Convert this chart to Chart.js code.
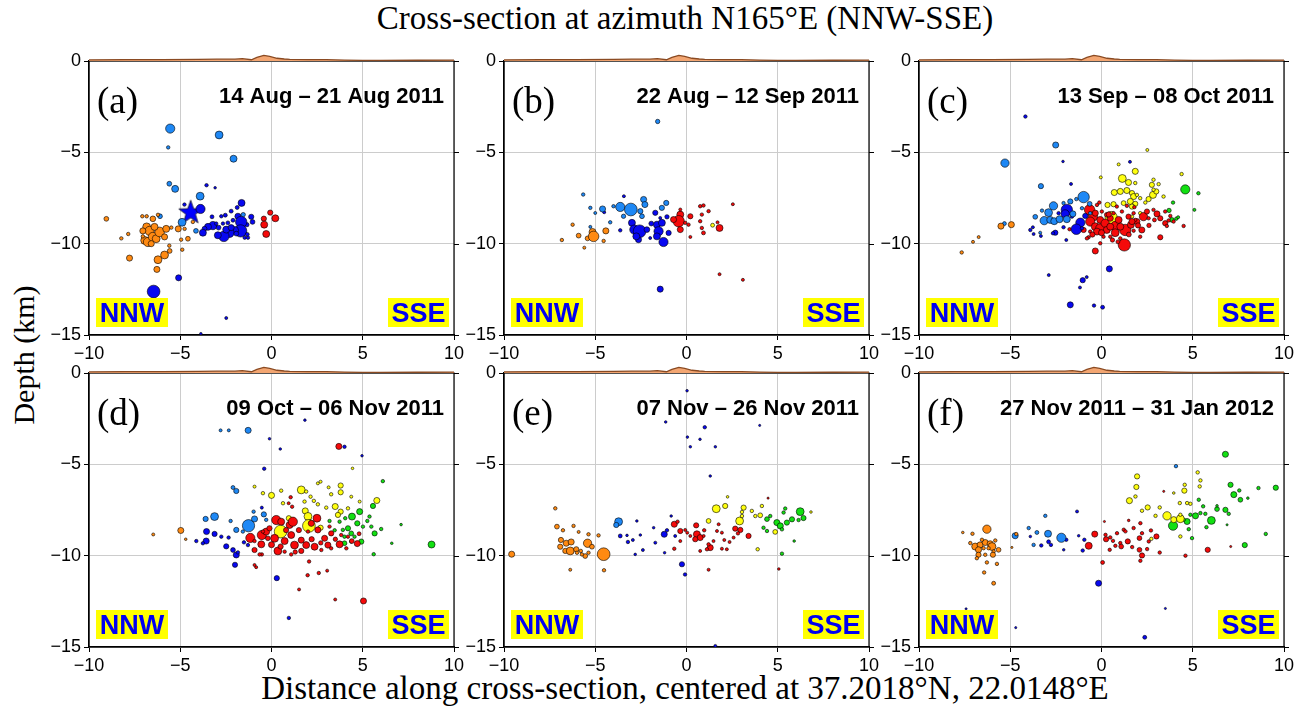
<!DOCTYPE html>
<html>
<head>
<meta charset="utf-8">
<script src="https://cdn.jsdelivr.net/npm/chart.js@4.4.0/dist/chart.umd.min.js"></script>
<style>
body { margin:0; background:#fff; width:1306px; height:707px; position:relative; overflow:hidden; }
canvas { position:absolute; }
.lbl { position:absolute; font-family:'Liberation Serif', serif; color:#000; white-space:nowrap; }
</style>
</head>
<body>
<div class="lbl" style="left:0;width:1370px;top:0px;text-align:center;font-size:33px;line-height:36px">Cross-section at azimuth N165°E (NNW-SSE)</div>
<div class="lbl" style="left:0;width:1370px;top:670px;text-align:center;font-size:33px;line-height:36px">Distance along cross-section, centered at 37.2018°N, 22.0148°E</div>
<div class="lbl" style="left:24px;top:355px;font-size:30px;line-height:32px;transform:translate(-50%,-50%) rotate(-90deg)">Depth (km)</div>
<div id="wrap"></div>
<script>
// axes
const xTicks = [-10, -5, 0, 5, 10];
const yTicks = [0, -5, -10, -15];
const panelLetters = ['(a)', '(b)', '(c)', '(d)', '(e)', '(f)'];
const panelDates = ['14 Aug – 21 Aug 2011', '22 Aug – 12 Sep 2011', '13 Sep – 08 Oct 2011',
                    '09 Oct – 06 Nov 2011', '07 Nov – 26 Nov 2011', '27 Nov 2011 – 31 Jan 2012'];

// topography along the profile (km, positive up)
const topoX = [-10, -8, -6, -4, -3, -2, -1.6, -1.1, -0.8, -0.42, -0.1, 0.3, 0.7, 1, 2, 3, 4, 5, 6, 8, 10];
const topoZ = [0.06, 0.07, 0.08, 0.09, 0.1, 0.1, 0.13, 0.07, 0.2, 0.31, 0.25, 0.15, 0.11, 0.09, 0.08, 0.07, 0.05, 0.03, 0.03, 0.04, 0.05];

// events: [distance km, depth km, size class]
const aOrange = [[-9.05,-8.64,1.5],[-8.23,-9.71,1.2],[-7.85,-9.47,1.2],[-7.78,-10.79,1.8],[-7.08,-8.5,1.2],[-6.84,-8.5,1.2],[-6.5,-8.64,1.7],[-6.22,-8.42,1.2],[-6.84,-9.08,2.2],[-6.68,-9.3,2.5],[-6.95,-9.82,2.2],[-6.77,-9.91,2.5],[-6.5,-9.63,2.5],[-6.32,-9.73,2.2],[-6.13,-9.36,2.6],[-6.41,-9.08,2],[-6.59,-10.0,1.8],[-5.86,-9.63,1.8],[-5.77,-9.19,2],[-5.49,-9.12,1.2],[-5.11,-9.19,1.8],[-4.76,-9.19,1.2],[-4.58,-9.73,1.5],[-4.95,-9.78,1.2],[-5.6,-10.11,1.2],[-5.58,-10.4,1.5],[-5.86,-10.62,2.2],[-6.22,-10.88,2.2],[-6.28,-11.41,1.8],[-4.89,-10.33,1.2],[-4.31,-8.81,1.2],[-7.05,-9.3,1.8],[-7.05,-9.6,1.2]];
const aLblue = [[-5.55,-3.7,2.5],[-2.87,-4.05,2.2],[-5.66,-4.73,1.2],[-2.08,-5.35,2],[-5.6,-6.72,1.5],[-5.28,-7.0,2],[-3.91,-7.4,2.2],[-4.9,-8.83,2.2],[-6.11,-8.5,1.5],[-4.14,-9.3,1.5],[-1.55,-8.41,1.4]];
const aBlue = [[-6.46,-12.62,3.3],[-5.09,-11.87,1.8],[-3.56,-6.8,1.2],[-3.09,-6.94,1.0],[-2.48,-14.07,1.1],[-3.87,-14.93,1.0],[-4.77,-7.86,1.2],[-3.89,-8.1,2.5],[-1.64,-7.77,2],[-1.88,-8.02,1.3],[-2.21,-8.22,1.3],[-2.53,-8.44,1.3],[-2.75,-8.5,1.2],[-3.26,-8.53,1.3],[-1.84,-8.5,1.8],[-1.11,-8.53,1.6],[-1.04,-8.81,1.5],[-1.35,-8.96,1.4],[-1.66,-8.81,3.0],[-1.69,-9.3,3.2],[-2.02,-9.27,2.2],[-2.3,-9.41,2.5],[-2.61,-9.6,2.8],[-2.94,-9.54,2],[-3.21,-9.01,2.3],[-3.48,-9.08,2],[-3.67,-9.18,1.5],[-3.76,-9.4,2],[-2.9,-9.12,1.5],[-2.48,-9.23,2],[-2.21,-9.12,1.8],[-1.93,-9.45,1.5],[-1.47,-9.67,1.2],[-1.29,-9.67,1.2],[-1.33,-9.49,1.3],[-2.66,-8.9,1.2],[-3.03,-8.9,1.2],[-2.39,-8.86,1.3],[-2.11,-8.72,1.3]];
const aRed = [[-0.07,-8.3,1.6],[0.21,-8.61,2],[-0.42,-8.63,1.6],[-0.4,-8.96,2],[-0.29,-9.47,2]];
const aYellow = [];
const aGreen = [];
const mainShock = [[-4.43, -8.25]];

const bOrange = [[-6.83,-9.8,1.2],[-6.24,-8.96,1.2],[-5.91,-9.56,1.5],[-5.42,-9.71,1.5],[-5.15,-9.36,2],[-5.09,-9.6,2.8],[-4.42,-9.3,1.8],[-4.54,-9.85,1.2],[-5.6,-10.22,1.1]];
const bLblue = [[-1.58,-3.31,1.4],[-5.66,-7.31,1.2],[-5.27,-8.04,1.2],[-5.0,-8.32,1.1],[-4.6,-8.1,1.8],[-4.0,-7.95,1.2],[-3.63,-7.99,2.5],[-3.05,-8.13,3.3],[-2.35,-7.58,1.8],[-2.28,-7.86,1.8],[-2.53,-8.22,1.6],[-2.44,-8.5,1.5],[-3.45,-8.5,1.4],[-1.35,-8.04,1.6],[-1.11,-7.77,1.6],[-5.27,-9.08,1.1],[-4.18,-8.83,1.2]];
const bBlue = [[-3.43,-7.4,1.1],[-4.51,-8.28,1.1],[-3.63,-9.27,1.2],[-2.99,-8.86,2],[-2.86,-9.23,2.5],[-2.57,-9.32,3.3],[-2.63,-9.78,1.8],[-2.75,-9.6,2],[-2.17,-9.23,1.7],[-1.93,-8.9,1.5],[-1.71,-8.31,1.6],[-1.62,-8.96,2],[-1.53,-9.32,2.5],[-1.62,-9.6,2],[-1.35,-8.86,2],[-1.26,-9.91,2.5],[-1.07,-8.53,1.4],[-0.98,-9.41,1.6],[-1.44,-12.49,1.8],[-1.99,-9.69,1.1],[-1.44,-8.59,1.1]];
const bRed = [[-0.34,-8.41,2],[-0.43,-8.77,3],[-0.71,-8.68,1.8],[-0.34,-9.23,1.8],[-0.07,-8.86,1.2],[0.21,-8.5,1.6],[0.11,-8.96,1.2],[0.75,-7.95,1.2],[0.93,-7.91,1.2],[1.21,-8.22,1.2],[0.84,-8.41,1.2],[0.75,-8.77,1.2],[0.93,-9.41,1.3],[0.84,-9.14,1.2],[0.21,-9.63,1.1],[1.81,-9.14,2],[1.7,-8.83,1.1],[2.54,-7.84,1.1],[1.81,-11.67,1.1],[3.09,-11.98,1.1],[-0.34,-8.13,1.1]];
const bYellow = [[1.43,-8.99,1.3]];
const bGreen = [];

const cOrange = [[-7.66,-10.48,1.2],[-7.04,-9.9,1.1],[-6.73,-9.64,1.1],[-5.51,-9.04,1.8],[-4.94,-8.96,1.8]];
const cLblue = [[-5.29,-5.59,2.3],[-2.51,-4.6,1.8],[-3.32,-6.85,1.6],[-5.32,-8.9,1.3],[-0.98,-7.45,3.0],[-2.63,-7.93,2.3],[-2.9,-8.3,2.2],[-3.14,-8.74,2.3],[-2.81,-8.7,2],[-2.59,-8.77,2],[-2.3,-8.66,2],[-1.9,-8.66,2],[-1.57,-8.37,1.8],[-1.71,-7.69,1.6],[-2.08,-7.78,1.2],[-3.63,-8.53,1.5],[-3.26,-8.19,1.2],[-3.36,-9.4,1.1],[-0.65,-7.82,1.5],[-1.07,-8.06,1.2],[-0.62,-8.33,1.2],[-1.38,-7.56,1.2]];
const cBlue = [[-4.17,-3.04,1.2],[-2.11,-5.5,1.0],[1.56,-5.52,1.1],[-1.67,-6.73,1.1],[-2.89,-11.72,1.1],[-1.03,-12.0,1.6],[-0.81,-11.83,1.1],[-1.18,-12.4,1.1],[-1.71,-13.35,1.8],[-0.41,-13.39,1.2],[0.06,-13.48,1.3],[0.43,-11.38,1.8],[-1.9,-8.15,3],[-1.99,-8.37,2.3],[-1.16,-8.85,2.5],[-1.38,-9.21,2.8],[-2.53,-9.4,1.6],[-2.66,-9.43,1.2],[-3.76,-9.1,1.1],[-3.9,-9.25,1.2],[-3.72,-9.47,1.1],[-3.32,-9.58,1.1],[-2.35,-8.33,1.2],[-0.89,-8.48,1.6],[-1.07,-9.16,1.2],[-2.08,-9.1,1.2],[-1.93,-9.8,1.1],[-1.62,-8.52,1.2]];
const cRed = [[-0.65,-8.15,2.8],[-0.47,-8.52,2.5],[-0.62,-8.79,2.5],[-0.34,-9.07,2.2],[-0.07,-8.7,2],[-0.07,-9.16,2.5],[0.2,-8.88,2.3],[0.29,-9.25,2],[0.75,-9.03,2.5],[0.75,-9.4,2.2],[0.94,-8.7,2],[1.3,-9.25,3],[1.25,-10.07,3.2],[1.61,-8.97,2],[1.94,-8.79,1.8],[2.21,-9.25,1.8],[2.3,-8.52,2.3],[2.49,-8.24,1.6],[3.04,-8.37,1.8],[3.22,-8.61,1.6],[3.49,-8.88,1.6],[3.58,-9.03,1.2],[3.22,-9.65,1.6],[4.5,-9.03,1.2],[-0.62,-9.34,1.2],[-0.71,-9.65,1.2],[-0.34,-10.4,1.8],[-0.07,-9.98,1.2],[0.11,-9.62,1.2],[0.48,-9.62,1.2],[1.03,-9.71,1.2],[1.76,-9.29,1.2],[2.12,-9.62,1.2],[-0.8,-9.71,1.2],[-0.98,-9.25,1.6],[-1.44,-9.07,1.2],[-1.75,-9.21,1.2],[-0.25,-7.88,1.2],[-0.12,-7.75,1.2],[0.48,-8.61,1.8],[0.66,-8.33,1.2],[1.12,-8.24,1.2],[1.48,-8.52,1.6],[1.76,-8.33,1.2],[1.85,-8.7,1.2],[2.58,-8.61,1.2],[2.85,-8.15,1.2],[3.49,-8.24,1.2],[3.77,-8.48,1.2],[3.68,-8.73,1.2],[3.95,-8.79,1.2],[0.29,-8.42,1.5],[0.02,-8.24,1.2],[0.84,-7.97,1.2],[1.39,-7.93,1.2],[-0.34,-8.33,1.8],[-0.25,-9.34,2],[0.48,-9.07,2],[1.03,-9.07,2],[1.67,-8.79,1.8],[0.0,-9.4,1.8],[0.4,-8.4,1.6],[0.6,-9.8,1.4],[1.5,-9.5,1.5],[2.0,-9.0,1.6],[2.6,-9.0,1.4],[-0.5,-9.5,1.6],[0.9,-9.9,1.3],[1.8,-8.0,1.2],[2.9,-8.7,1.3]];
const cYellow = [[2.51,-4.87,1.1],[0.94,-5.66,1.1],[1.85,-6.04,1.8],[4.39,-6.19,1.2],[-0.04,-6.37,1.1],[1.14,-6.43,2.2],[1.48,-6.65,1.8],[2.85,-6.5,1.2],[3.13,-6.74,1.2],[1.85,-6.68,1.2],[0.7,-7.2,1.8],[1.03,-7.14,1.8],[1.39,-7.09,1.8],[1.67,-7.23,1.6],[1.76,-7.42,1.8],[1.94,-7.33,1.2],[2.12,-7.51,1.2],[2.82,-7.33,2],[3.0,-7.14,1.6],[2.58,-7.56,1.6],[2.4,-7.75,1.2],[1.58,-7.69,1.8],[1.85,-7.82,1.6],[1.67,-7.97,1.6],[1.21,-7.78,1.5],[0.66,-7.84,1.6],[0.33,-7.88,1.6],[2.12,-8.33,1.2],[1.67,-8.52,1.2],[2.76,-6.78,1.6],[2.85,-7.05,1.2],[3.4,-7.42,1.2],[0.53,-8.57,3.2]];
const cGreen = [[4.59,-7.03,2.5],[5.31,-7.24,1.2],[5.09,-8.15,1.1],[3.92,-7.75,1.2],[3.7,-8.18,1.4],[3.86,-8.7,1.5],[4.1,-8.63,1.2],[4.2,-8.55,1.1]];

const dOrange = [[-6.48,-8.84,1.1],[-4.97,-8.62,1.8],[-4.7,-9.1,1.0]];
const dLblue = [[-2.79,-3.14,1.1],[-2.34,-3.14,1.1],[-1.28,-3.14,1.8],[-2.11,-6.27,1.3],[-1.93,-6.46,1.6],[-3.61,-7.99,1.6],[-3.12,-7.86,2.2],[-2.24,-8.1,1.2],[-1.26,-8.36,3.2],[-1.93,-8.59,1.6],[-0.93,-7.99,1.8],[-0.42,-7.74,1.6],[-0.98,-7.59,1.2],[-0.29,-8.04,1.2],[-1.57,-8.68,1.2]];
const dBlue = [[-0.11,-3.6,1.0],[0.48,-4.16,1.0],[1.83,-2.58,1.0],[4.0,-4.04,1.2],[4.96,-4.53,1.0],[-0.4,-5.24,1.2],[-2.0,-10.5,1.6],[0.29,-11.23,1.6],[0.95,-13.41,1.2],[-0.53,-7.37,1.1],[-3.56,-8.68,1.8],[-3.12,-8.81,1.6],[-3.58,-9.2,1.8],[-3.76,-9.32,1.2],[-4.12,-9.2,1.2],[-2.75,-8.96,1.2],[-2.35,-9.01,1.2],[-2.48,-9.49,1.6],[-2.11,-9.69,1.5],[-1.93,-9.96,1.8],[-1.84,-9.82,1.2],[-1.51,-9.27,1.2],[-1.29,-9.42,1.2]];
const dRed = [[3.69,-4.02,1.8],[-0.84,-10.63,1.1],[2.06,-10.32,1.2],[1.98,-11.07,1.2],[2.59,-10.95,1.2],[3.05,-10.82,1.1],[1.51,-11.85,1.1],[3.49,-12.4,1.1],[5.04,-12.48,1.8],[-1.16,-9.03,2.5],[-0.93,-9.2,1.2],[-0.53,-8.87,2.5],[-0.29,-8.68,2],[-0.56,-9.38,2],[-0.93,-9.69,1.6],[-0.53,-9.93,1.2],[0.26,-8.05,2.5],[0.53,-8.14,2],[0.99,-8.32,2],[1.17,-8.14,2.5],[0.17,-9.05,2.2],[0.72,-9.2,2],[1.08,-8.87,2],[1.26,-9.42,2.2],[1.63,-9.15,1.8],[0.35,-9.74,2.2],[0.72,-9.78,1.2],[1.08,-9.93,1.2],[1.63,-9.74,1.6],[1.9,-9.42,2],[2.36,-9.51,2],[2.49,-7.95,2.2],[2.18,-8.23,1.8],[2.54,-8.59,1.8],[2.91,-9.05,1.8],[3.09,-9.42,1.8],[3.27,-8.78,1.6],[3.73,-9.38,2],[3.82,-8.87,1.2],[4.19,-8.96,1.2],[4.7,-9.34,1.8],[4.1,-9.6,1.2],[3.27,-9.6,1.2],[2.73,-9.69,1.2],[1.05,-6.8,1.2],[1.13,-7.32,1.2],[0.94,-7.13,1.1],[-0.47,-8.68,1.2],[-0.11,-8.5,1.6],[-0.2,-9.05,1.5],[2.0,-8.68,1.2],[3.18,-8.41,1.2],[-0.93,-10.51,1.1],[-0.65,-9.93,1.2],[0.0,-9.4,1.8],[0.5,-9.5,1.6],[1.5,-8.6,1.6],[2.2,-9.1,1.6],[2.7,-9.3,1.4],[1.3,-9.8,1.4],[0.8,-8.6,1.6],[3.5,-9.1,1.4],[4.4,-9.2,1.5],[4.8,-8.8,1.3]];
const dYellow = [[4.44,-5.22,1.0],[1.63,-6.4,2.2],[0.0,-6.7,1.8],[-0.47,-6.58,1.2],[-0.93,-6.22,1.1],[0.53,-6.44,1.2],[1.9,-6.49,1.2],[2.14,-6.77,1.2],[2.54,-6.04,1.1],[2.69,-5.95,1.1],[3.13,-6.26,1.1],[3.79,-6.16,1.6],[3.79,-6.53,1.6],[3.27,-6.64,1.2],[1.81,-7.04,1.2],[2.32,-7.0,1.2],[2.54,-7.19,1.2],[1.85,-7.55,1.8],[2.0,-7.85,2.2],[3.0,-7.37,1.2],[3.49,-7.31,1.8],[3.79,-7.59,1.6],[4.19,-7.41,1.2],[5.77,-6.98,1.8],[2.69,-8.47,1.6],[3.64,-7.77,1.6],[0.63,-7.13,1.2],[0.95,-7.95,1.6],[4.37,-6.77,1.1],[4.83,-7.04,1.1],[0.5,-8.68,3.3],[2.05,-8.37,3.3]];
const dGreen = [[6.1,-5.92,1.2],[8.77,-9.39,2],[7.1,-8.3,1.0],[6.59,-9.32,1.0],[5.6,-9.92,1.2],[4.41,-7.86,2],[4.04,-7.95,1.2],[3.73,-8.14,1.2],[4.83,-7.59,1.8],[5.37,-7.86,1.2],[5.56,-7.28,1.6],[4.7,-8.23,1.6],[5.01,-8.41,1.2],[4.19,-8.5,1.6],[3.91,-8.59,1.2],[4.37,-8.78,1.5],[4.0,-8.96,1.2],[4.55,-8.96,1.2],[4.92,-9.23,1.6],[5.47,-8.41,1.2],[5.65,-8.78,1.6],[6.01,-8.54,1.2],[5.25,-8.1,1.2],[4.0,-9.32,1.5],[4.37,-9.23,1.2],[3.46,-8.61,1.2],[3.18,-8.1,1.2]];

const eOrange = [[-9.58,-9.92,1.8],[-4.52,-10.8,1.2],[-6.37,-10.77,1.1],[-7.19,-7.41,1.2],[-7.1,-8.41,1.5],[-6.77,-8.61,1.2],[-6.19,-8.37,1.2],[-5.91,-8.7,1.1],[-5.37,-8.83,1.2],[-4.82,-8.89,1.2],[-6.88,-9.14,1.6],[-6.59,-9.32,1.8],[-6.32,-9.25,1.8],[-6.92,-9.51,1.6],[-6.64,-9.74,1.6],[-6.37,-9.74,2.2],[-6.04,-9.65,1.6],[-5.79,-9.74,1.2],[-5.55,-10.02,1.5],[-5.42,-9.32,2.3],[-5.18,-9.51,1.5],[-5.37,-9.84,1.2],[-6.0,-9.84,1.2],[-5.73,-9.93,1.2],[-4.54,-9.92,3.3]];
const eLblue = [[-3.72,-8.14,2.2],[-3.85,-8.32,1.6]];
const eBlue = [[0.03,-0.97,1.0],[-1.14,-2.68,1.0],[1.0,-2.97,1.2],[0.05,-3.51,1.0],[0.21,-4.04,1.0],[0.74,-3.63,1.0],[1.58,-4.04,1.0],[4.01,-2.87,0.9],[1.3,-5.64,1.0],[-0.25,-10.47,1.6],[-0.08,-11.03,1.2],[1.58,-14.94,1.1],[-3.63,-8.92,1.3],[-3.21,-9.25,1.2],[-2.94,-9.14,1.1],[-2.72,-8.1,1.0],[-2.39,-9.69,1.1],[-1.8,-8.47,1.0],[-1.71,-9.29,1.1],[-1.22,-8.83,1.8],[-1.07,-8.61,1.2],[-0.84,-7.83,1.0],[-0.62,-8.92,1.1],[-2.81,-9.93,1.0],[-1.2,-9.84,1.0],[-2.53,-8.87,1.0],[-3.26,-8.89,1.0]];
const eRed = [[1.21,-10.77,1.1],[5.06,-10.73,1.0],[4.47,-6.85,0.9],[-0.67,-8.28,1.8],[-0.49,-8.14,1.2],[-0.34,-8.65,1.6],[0.04,-8.74,1.1],[0.53,-8.34,1.6],[0.57,-8.83,2],[0.75,-9.01,1.8],[0.48,-9.1,1.6],[0.97,-8.61,1.2],[1.3,-9.56,1.8],[1.12,-9.65,1.2],[0.94,-8.92,1.1],[1.48,-9.2,1.1],[1.67,-8.65,1.1],[1.94,-8.74,1.1],[2.07,-9.14,1.1],[2.36,-9.25,1.1],[2.67,-8.52,1.6],[2.95,-8.59,1.6],[2.82,-8.78,1.2],[3.4,-8.92,1.6],[1.21,-9.38,1.2],[0.75,-9.74,1.1],[-0.67,-9.62,1.2],[-0.34,-9.2,1.1],[0.21,-8.92,1.1],[2.21,-9.65,1.1],[1.94,-9.62,1.1],[-0.07,-8.59,1.1],[1.76,-8.28,1.1],[2.58,-9.01,1.1]];
const eYellow = [[1.63,-7.43,2.2],[2.12,-7.28,1.6],[2.25,-6.78,1.0],[1.21,-8.1,1.5],[2.91,-8.1,2.2],[3.13,-7.37,1.6],[3.04,-7.83,1.2],[3.58,-7.55,1.2],[4.13,-7.28,1.2],[3.77,-7.83,1.2],[4.04,-7.79,1.5],[4.86,-8.7,1.5],[3.9,-9.65,1.2],[3.04,-7.61,1.2],[6.82,-7.61,1.0]];
const eGreen = [[4.41,-8.0,1.5],[4.59,-7.83,1.2],[4.95,-8.19,1.8],[5.14,-8.37,1.8],[5.32,-7.64,1.2],[5.41,-7.42,1.2],[5.5,-8.19,1.6],[5.78,-8.01,1.6],[6.23,-7.59,2.2],[6.41,-7.94,1.6],[6.14,-8.05,1.2],[4.22,-8.47,1.2],[4.41,-8.65,1.2],[5.23,-8.56,1.2],[5.9,-9.2,1.0],[5.23,-9.89,1.2]];

const fOrange = [[-6.28,-8.55,2.3],[-7.07,-8.8,1.2],[-7.6,-8.73,1.0],[-6.92,-9.5,2],[-6.65,-9.41,1.8],[-6.37,-9.28,1.8],[-6.1,-9.35,1.8],[-6.0,-9.5,2.2],[-6.74,-9.68,1.8],[-6.46,-9.59,1.2],[-6.19,-9.59,1.2],[-5.91,-9.77,1.2],[-5.64,-9.68,1.5],[-6.74,-9.95,1.6],[-5.95,-9.95,1.6],[-6.37,-9.95,1.2],[-6.28,-10.37,1.2],[-5.73,-10.45,1.2],[-6.43,-10.92,1.2],[-5.91,-11.51,1.3],[-7.19,-9.31,1.2],[-6.55,-9.13,1.2],[-5.82,-9.17,1.2],[-6.83,-10.14,1.2],[-4.91,-9.55,0.9],[-4.67,-8.82,1.2]];
const fLblue = [[-4.73,-8.91,1.8],[-3.99,-8.49,1.2],[-3.72,-9.41,1.2],[-3.54,-8.73,1.3],[-2.93,-8.8,2],[-2.2,-9.02,2.5],[-3.08,-7.82,1.2],[4.08,-5.1,1.2]];
const fBlue = [[-7.42,-12.91,0.9],[-4.7,-13.94,0.9],[2.37,-14.47,1.3],[3.5,-12.89,0.9],[-3.9,-8.95,1.0],[-3.3,-9.44,1.2],[-2.9,-9.24,1.3],[-2.77,-9.41,1.2],[-1.93,-9.13,1.2],[-1.34,-7.58,1.1],[-1.25,-8.91,1.0],[-0.94,-9.13,1.2],[-1.03,-9.72,1.2],[-2.07,-9.68,1.0],[-0.16,-11.51,1.8]];
const fRed = [[7.08,-9.5,0.9],[-0.37,-8.82,1.8],[-0.7,-9.46,2],[0.06,-10.37,1.3],[0.22,-8.86,1.2],[0.25,-9.1,1.6],[0.48,-9.0,1.2],[0.63,-9.19,1.2],[0.76,-9.46,1.2],[1.03,-9.31,1.2],[1.08,-9.5,1.5],[1.22,-8.58,1.2],[1.31,-8.67,1.2],[1.44,-9.22,1.6],[1.68,-9.53,1.2],[1.49,-8.07,1.0],[0.16,-8.13,0.9],[2.08,-9.04,1.5],[2.13,-8.22,1.2],[2.22,-8.77,1.2],[2.08,-9.68,1.5],[2.22,-9.99,1.6],[2.13,-10.28,1.2],[2.5,-9.64,1.2],[2.59,-9.22,1.2],[3.01,-8.95,1.6],[3.19,-9.83,1.2],[3.41,-6.48,0.9],[4.6,-10.0,1.2],[5.82,-9.68,1.6],[0.45,-9.68,1.2],[0.85,-8.77,1.2],[1.76,-8.49,1.2],[2.71,-8.62,1.2]];
const fYellow = [[1.95,-5.66,1.6],[1.91,-6.24,1.6],[1.86,-6.76,1.2],[1.53,-6.99,1.8],[2.53,-7.36,1.6],[3.19,-7.36,1.2],[2.22,-7.54,1.2],[2.96,-7.82,1.2],[3.59,-7.82,2.3],[3.96,-8.03,1.8],[4.32,-7.98,2.2],[4.54,-6.44,1.6],[4.56,-6.12,1.2],[5.27,-5.44,1.2],[5.42,-5.88,1.2],[5.38,-6.21,1.2],[4.87,-7.16,1.2],[4.69,-7.12,1.2],[4.29,-7.12,1.2],[3.96,-6.57,1.0],[2.73,-9.08,1.2],[4.32,-8.95,1.2],[4.32,-7.76,1.2]];
const fGreen = [[6.79,-4.45,1.8],[9.55,-6.28,1.6],[9.0,-8.81,1.2],[8.6,-6.3,1.2],[3.92,-8.36,2.5],[4.69,-8.13,1.8],[4.87,-7.76,1.2],[5.15,-7.82,1.8],[5.42,-7.67,1.2],[5.69,-7.71,1.2],[6.02,-8.07,2.2],[6.33,-7.45,1.5],[6.79,-7.49,1.6],[6.97,-7.71,1.2],[7.25,-6.66,1.8],[7.61,-6.94,1.5],[7.07,-6.12,1.6],[7.55,-6.43,1.2],[8.02,-6.85,1.0],[5.75,-8.44,1.2],[4.96,-9.04,1.2],[7.85,-9.42,1.6],[6.88,-8.31,0.9],[6.33,-7.27,1.0],[5.57,-7.3,1.2],[5.33,-6.94,1.2],[4.78,-8.55,1.2],[4.51,-8.03,1.2]];

const panelData = [
  [aOrange, aLblue, aBlue, aRed, aYellow, aGreen],
  [bOrange, bLblue, bBlue, bRed, bYellow, bGreen],
  [cOrange, cLblue, cBlue, cRed, cYellow, cGreen],
  [dOrange, dLblue, dBlue, dRed, dYellow, dGreen],
  [eOrange, eLblue, eBlue, eRed, eYellow, eGreen],
  [fOrange, fLblue, fBlue, fRed, fYellow, fGreen]
];
const classColors = ['#ff8a12', '#1e88f5', '#0808f0', '#f50a0a', '#ffff10', '#12e012'];

// layout
const PW = 365, PH = 274, PL = 62, PT = 22, PR = 14, PB = 32;
const colLeft = [89, 504, 919], rowTop = [61, 373];

const SANS = '"Liberation Sans", Arial, sans-serif';
const SERIF = '"Liberation Serif", "Times New Roman", serif';
Chart.defaults.font.family = SANS;

function rad(m) { return 2.2 * m - 0.9; }
function fmt(v) { return v < 0 ? '\u2212' + Math.abs(v) : String(v); }

function makeStar() {
  const c = document.createElement('canvas');
  c.width = 28; c.height = 28;
  const g = c.getContext('2d');
  g.beginPath();
  for (let k = 0; k < 10; k++) {
    const r = k % 2 ? 5 : 12.5;
    const ang = -Math.PI / 2 + k * Math.PI / 5;
    g.lineTo(14 + r * Math.cos(ang), 15 + r * Math.sin(ang));
  }
  g.closePath();
  g.fillStyle = '#0000ff'; g.fill();
  g.strokeStyle = '#000'; g.lineWidth = 0.7; g.stroke();
  return c;
}
const starImg = makeStar();

const panelDecor = {
  id: 'panelDecor',
  beforeDatasetsDraw(chart) {
    const { ctx, chartArea: a } = chart;
    const ys = chart.scales.y;
    ctx.save();
    ctx.strokeStyle = '#000';
    ctx.lineWidth = 1;
    yTicks.forEach(v => {
      const p = Math.round(ys.getPixelForValue(v)) + 0.5;
      ctx.beginPath(); ctx.moveTo(a.right, p); ctx.lineTo(a.right + 5, p); ctx.stroke();
    });
    ctx.lineWidth = 1.2;
    ctx.strokeRect(a.left, a.top, a.right - a.left, a.bottom - a.top);
    ctx.restore();
  },
  afterDraw(chart, args, opts) {
    const { ctx, chartArea: a } = chart;
    const xs = chart.scales.x, ys = chart.scales.y;
    const i = opts.index;
    ctx.save();
    // topography
    const y0 = ys.getPixelForValue(0);
    ctx.beginPath();
    ctx.moveTo(xs.getPixelForValue(topoX[0]), y0);
    topoX.forEach((x, k) => ctx.lineTo(xs.getPixelForValue(x), ys.getPixelForValue(topoZ[k])));
    ctx.lineTo(xs.getPixelForValue(topoX[topoX.length - 1]), y0);
    ctx.closePath();
    ctx.fillStyle = '#f3a672';
    ctx.fill();
    ctx.beginPath();
    topoX.forEach((x, k) => ctx.lineTo(xs.getPixelForValue(x), ys.getPixelForValue(topoZ[k])));
    ctx.strokeStyle = '#8a4a22';
    ctx.lineWidth = 1.3;
    ctx.stroke();

    // panel letter and dates
    ctx.fillStyle = '#000';
    ctx.textBaseline = 'alphabetic';
    ctx.textAlign = 'left';
    ctx.font = '37px ' + SERIF;
    ctx.fillText(panelLetters[i], a.left + 8, a.top + 52);
    ctx.textAlign = 'right';
    ctx.font = 'bold 22px ' + SANS;
    ctx.fillText(panelDates[i], a.right - 10, a.top + 42);

    // direction tags
    const by = a.bottom - 37;
    ctx.fillStyle = '#ffff00';
    ctx.fillRect(a.left + 7, by, 72, 29);
    ctx.fillRect(a.right - 66, by, 61, 29);
    ctx.fillStyle = '#0000f0';
    ctx.font = 'bold 27px ' + SANS;
    ctx.textAlign = 'center';
    ctx.fillText('NNW', a.left + 43, by + 24);
    ctx.fillText('SSE', a.right - 35.5, by + 24);
    ctx.restore();
  }
};

const wrap = document.getElementById('wrap');
panelData.forEach((groups, i) => {
  const c = document.createElement('canvas');
  c.width = PL + PW + PR;
  c.height = PT + PH + PB;
  c.style.left = (colLeft[i % 3] - PL) + 'px';
  c.style.top = (rowTop[Math.floor(i / 3)] - PT) + 'px';
  wrap.appendChild(c);

  const datasets = groups.map((pts, k) => ({
    data: pts.map(p => ({ x: p[0], y: p[1] })),
    pointRadius: pts.map(p => rad(p[2])),
    backgroundColor: classColors[k],
    borderColor: '#000',
    borderWidth: 0.6
  }));
  if (i === 0) {
    datasets.push({
      data: mainShock.map(p => ({ x: p[0], y: p[1] })),
      pointStyle: starImg,
      pointRadius: 12
    });
  }

  const axisCommon = {
    type: 'linear',
    grid: { color: '#cccccc', lineWidth: 1, tickColor: '#000', tickLength: 5, drawTicks: true },
    border: { display: true, color: '#000', width: 1.2 },
    ticks: { color: '#000', font: { family: SANS, size: 18 }, padding: 3, maxRotation: 0, callback: fmt }
  };

  new Chart(c.getContext('2d'), {
    type: 'scatter',
    data: { datasets },
    options: {
      responsive: false,
      animation: false,
      devicePixelRatio: 1,
      layout: { padding: { left: 0, top: PT, right: PR, bottom: 0 } },
      plugins: { legend: { display: false }, tooltip: { enabled: false }, panelDecor: { index: i } },
      scales: {
        x: Object.assign({}, axisCommon, {
          min: -10, max: 10,
          afterBuildTicks: s => { s.ticks = xTicks.map(v => ({ value: v })); },
          afterFit: s => { s.height = PB; }
        }),
        y: Object.assign({}, axisCommon, {
          min: -15, max: 0,
          afterBuildTicks: s => { s.ticks = yTicks.map(v => ({ value: v })); },
          afterFit: s => { s.width = PL; }
        })
      }
    },
    plugins: [panelDecor]
  });
});
</script>
</body>
</html>
